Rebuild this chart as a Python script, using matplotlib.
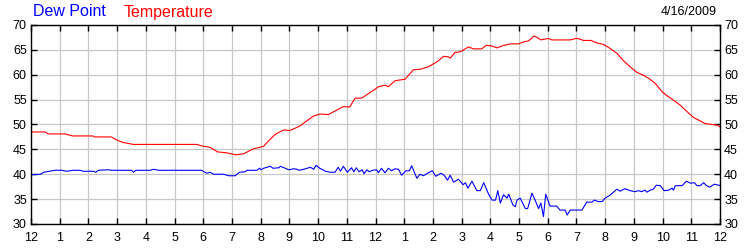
import matplotlib
matplotlib.use("Agg")
import matplotlib.pyplot as plt

# hours after midnight
temp_hours = [0, 0.49, 0.6, 1.18, 1.45, 2.16, 2.2, 2.8, 2.98, 3.2, 3.56, 5.77, 5.95,
              6.24, 6.5, 6.82, 7.13, 7.4, 7.74, 8.1, 8.26, 8.5, 8.8, 9.02, 9.37, 9.6,
              9.84, 10.07, 10.36, 10.65, 10.88, 11.1, 11.29, 11.52, 11.75, 11.99,
              12.1, 12.33, 12.45, 12.68, 13.03, 13.32, 13.55, 13.84, 14.14, 14.37,
              14.54, 14.6, 14.77, 14.95, 15.24, 15.41, 15.7, 15.85, 16.05, 16.23,
              16.46, 16.69, 16.98, 17.15, 17.33, 17.53, 17.6, 17.76, 18.02, 18.14,
              18.78, 18.99, 19.1, 19.24, 19.5, 19.71, 19.94, 20.17, 20.41, 20.64,
              20.87, 21.1, 21.33, 21.51, 21.74, 21.98, 22.15, 22.38, 22.61, 22.85,
              23.08, 23.25, 23.48, 23.72, 23.9, 24.0]
temperature = [48.5, 48.5, 48.1, 48.1, 47.7, 47.7, 47.5, 47.5, 46.9, 46.4, 46.0, 46.0, 45.7,
               45.4, 44.5, 44.3, 43.9, 44.1, 45.1, 45.6, 46.6, 48.0, 48.9, 48.8, 49.7, 50.7,
               51.7, 52.1, 52.0, 52.9, 53.6, 53.5, 55.3, 55.3, 56.2, 57.1,
               57.6, 57.9, 57.6, 58.8, 59.1, 61.0, 61.1, 61.6, 62.6, 63.7,
               63.6, 63.3, 64.5, 64.6, 65.6, 65.2, 65.2, 65.9, 65.8, 65.4,
               65.9, 66.2, 66.2, 66.6, 66.8, 67.8, 67.6, 67.0, 67.3, 67.0,
               67.0, 67.3, 67.2, 66.9, 66.9, 66.4, 66.1, 65.3, 64.3, 62.8,
               61.6, 60.5, 59.9, 59.3, 58.3, 56.6, 55.8, 54.9, 53.9, 52.6,
               51.4, 50.9, 50.2, 50.0, 49.9, 49.5]

dew_hours = [0, 0.33, 0.44, 0.84, 1.07, 1.24, 1.47, 1.71, 1.82, 2.17, 2.26, 2.34, 2.69,
             2.8, 3.5, 3.57, 3.65, 4.14, 4.28, 4.43, 5.94, 6.06, 6.12, 6.24, 6.36,
             6.71, 6.88, 7.11, 7.26, 7.46, 7.52, 7.87, 7.96, 8.02, 8.1, 8.34, 8.43,
             8.63, 8.69, 8.86, 8.98, 9.15, 9.27, 9.33, 9.5, 9.73, 9.85, 9.93, 10.06,
             10.26, 10.43, 10.59, 10.7, 10.78, 10.88, 11.02, 11.16, 11.25, 11.33,
             11.43, 11.54, 11.6, 11.7, 11.78, 11.9, 12.04, 12.1, 12.21, 12.33,
             12.45, 12.56, 12.68, 12.8, 12.91, 13.06, 13.18, 13.26, 13.44, 13.55,
             13.67, 13.84, 13.98, 14.1, 14.28, 14.39, 14.51, 14.6, 14.72, 14.89,
             15.05, 15.13, 15.22, 15.36, 15.53, 15.65, 15.77, 15.94, 16.06, 16.18,
             16.26, 16.35, 16.46, 16.58, 16.64, 16.79, 16.87, 16.93, 17.04, 17.22,
             17.3, 17.45, 17.56, 17.68, 17.76, 17.85, 17.93, 18.08, 18.31, 18.43,
             18.6, 18.68, 18.78, 19.19, 19.36, 19.54, 19.62, 19.77, 19.89, 20.0,
             20.17, 20.41, 20.52, 20.69, 20.87, 21.04, 21.16, 21.27, 21.39, 21.45,
             21.57, 21.68, 21.78, 21.92, 22.06, 22.21, 22.33, 22.38, 22.44, 22.68,
             22.83, 22.97, 23.11, 23.2, 23.31, 23.43, 23.51, 23.64, 23.8, 23.96, 24.0]
dew_point = [39.9, 40.0, 40.4, 40.8, 40.8, 40.6, 40.8, 40.8, 40.6, 40.6, 40.4, 40.8, 40.9,
             40.8, 40.8, 40.4, 40.8, 40.8, 41.0, 40.8, 40.8, 40.4, 40.2, 40.4, 40.0,
             40.0, 39.7, 39.7, 40.4, 40.5, 40.8, 40.8, 41.2, 40.9, 41.2, 41.6, 41.2,
             41.3, 41.6, 41.2, 40.9, 41.1, 41.0, 40.8, 41.0, 41.4, 41.0, 41.8, 41.2,
             40.6, 40.4, 40.4, 41.4, 40.6, 41.6, 40.4, 41.3, 40.5, 41.3,
             40.5, 40.9, 40.1, 40.9, 40.5, 40.8, 40.9, 40.3, 41.2, 40.3,
             41.2, 40.7, 41.1, 41.0, 39.8, 40.7, 40.7, 41.7, 39.2, 40.0,
             39.7, 40.3, 40.7, 39.6, 40.2, 39.8, 38.8, 39.8, 38.4, 39.0,
             37.9, 38.3, 37.2, 38.6, 36.7, 36.7, 38.3, 36.0, 34.8, 34.8,
             36.7, 34.2, 35.9, 35.2, 36.0, 33.8, 33.5, 34.8, 35.2, 33.1,
             33.1, 36.2, 34.8, 33.1, 34.2, 31.5, 36.0, 33.6, 33.6, 32.8,
             32.8, 31.8, 32.8, 32.8, 34.4, 34.4, 34.8, 34.5, 34.5, 35.2,
             35.8, 37.0, 36.6, 37.1, 36.7, 36.5, 36.7, 36.5, 36.8, 36.4,
             36.8, 37.0, 37.8, 37.7, 36.7, 36.8, 37.2, 36.8, 37.7, 37.7,
             38.6, 38.2, 38.3, 37.7, 37.7, 38.3, 37.8, 37.4, 38.0, 37.8, 37.7]

hour_labels = ["12", "1", "2", "3", "4", "5", "6", "7", "8", "9", "10", "11",
               "12", "1", "2", "3", "4", "5", "6", "7", "8", "9", "10", "11", "12"]
y_ticks = [30, 35, 40, 45, 50, 55, 60, 65, 70]

plt.rcParams['font.family'] = ['Liberation Sans', 'DejaVu Sans']

fig = plt.figure(figsize=(7.5, 2.5), dpi=100)
ax = fig.add_axes([31/750, 1 - 224/250, 689/750, 199/250])

ax.plot(temp_hours, temperature, color="#ff0000", lw=0.8)
ax.plot(dew_hours, dew_point, color="#0000ff", lw=0.8)

ax.set_xlim(0, 24)
ax.set_ylim(30, 70)
ax.set_xticks(range(25))
ax.set_xticklabels(hour_labels)
ax.set_yticks(y_ticks)
ax.grid(True, color="#c8c8c8", lw=0.9)
ax.set_axisbelow(True)
ax.tick_params(direction="in", length=4, width=1, color="black",
               top=True, right=True, labelright=True, labelsize=9, pad=3)
ax.tick_params(axis="x", pad=6)
for s in ax.spines.values():
    s.set_linewidth(1)
    s.set_color("black")

fig.text(33/750, 1 - 12/250, "Dew Point", color="#0000ff", fontsize=11.5, va="center")
fig.text(124/750, 1 - 12/250, "Temperature", color="#ff0000", fontsize=11.5, va="center")
fig.text(717/750, 1 - 12/250, "4/16/2009", color="black", fontsize=9, va="center", ha="right")

fig.savefig("out.png", dpi=100)
